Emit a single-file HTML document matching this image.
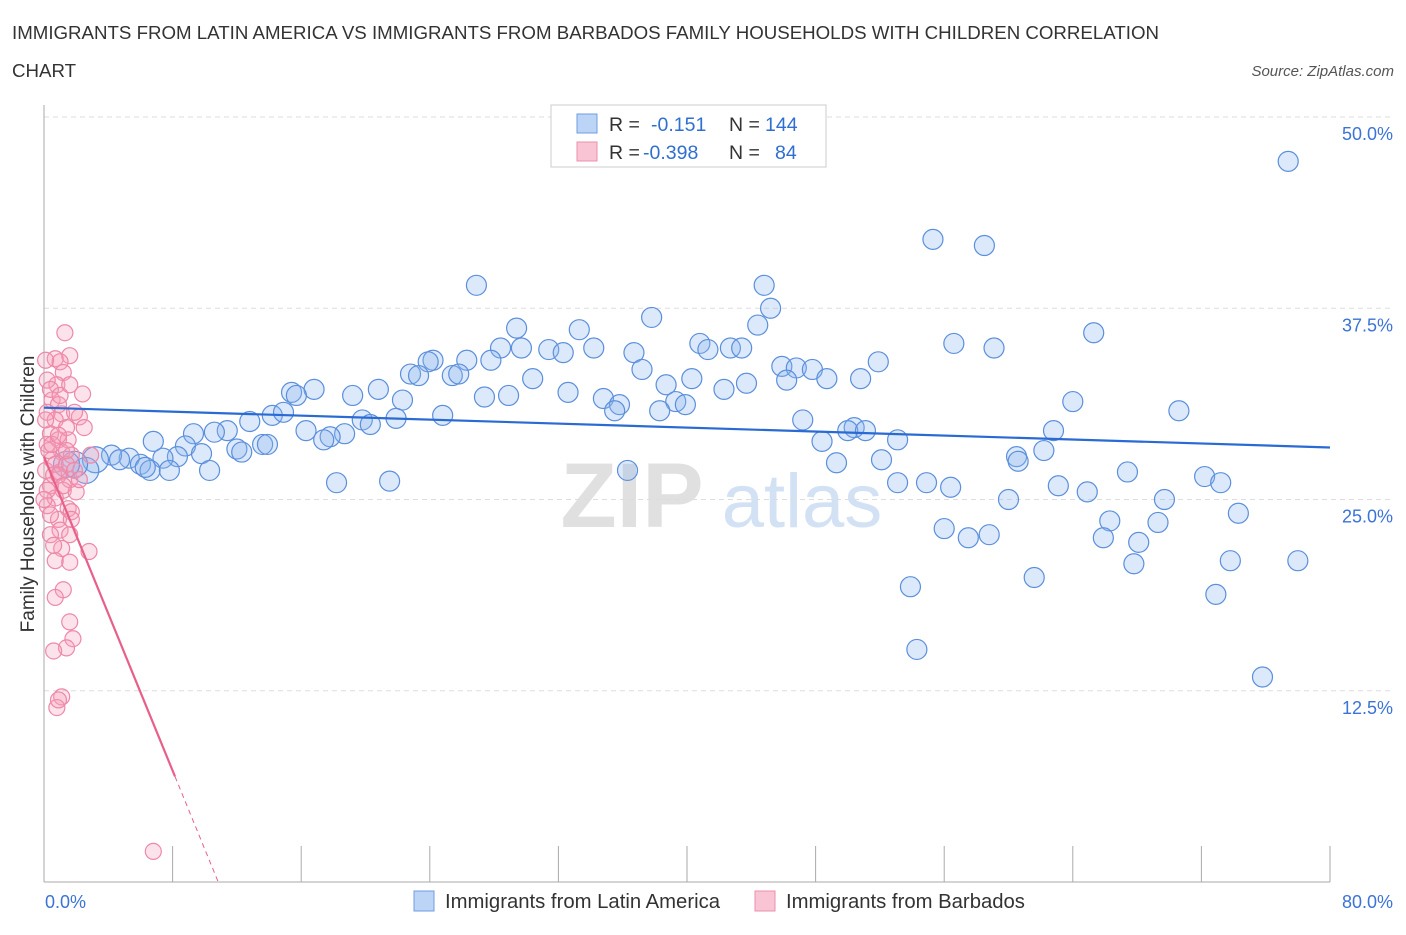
<!DOCTYPE html>
<html><head><meta charset="utf-8"><style>
body{margin:0;background:#fff;font-family:"Liberation Sans",sans-serif;}
svg text{font-family:"Liberation Sans",sans-serif;}
</style></head><body>
<svg id="chart" width="1406" height="930" viewBox="0 0 1406 930" xmlns="http://www.w3.org/2000/svg">
<text x="12" y="39" font-size="18.7" fill="#333">IMMIGRANTS FROM LATIN AMERICA VS IMMIGRANTS FROM BARBADOS FAMILY HOUSEHOLDS WITH CHILDREN CORRELATION</text>
<text x="12" y="77" font-size="18.7" fill="#333">CHART</text>
<text x="1394" y="76" font-size="15" font-style="italic" fill="#555" text-anchor="end">Source: ZipAtlas.com</text>
<g>
<text x="632" y="527" font-size="92" fill="#e0e0e0" text-anchor="middle" font-family="Liberation Serif" font-weight="bold">ZIP</text>
<text x="802" y="527" font-size="76" fill="#d3e1f5" text-anchor="middle">atlas</text>
</g>
<g id="grid"></g><g id="axes"></g><g id="pts"></g><g id="lines"></g>
<g>
<rect x="551" y="105" width="275" height="62" fill="#fff" stroke="#ccc"/>
<rect x="577" y="114" width="20" height="19" fill="#bcd4f5" stroke="#6f9de0"/>
<rect x="577" y="142" width="20" height="19" fill="#f9c5d4" stroke="#ec8fab"/>
<text x="609" y="131" font-size="19.5" fill="#333">R = <tspan fill="#2f6fd0" x="651">-0.151</tspan><tspan fill="#333" x="729">N = </tspan><tspan fill="#2f6fd0" x="765">144</tspan></text>
<text x="609" y="159" font-size="19.5" fill="#333">R = <tspan fill="#2f6fd0" x="643">-0.398</tspan><tspan fill="#333" x="729">N = </tspan><tspan fill="#2f6fd0" x="775">84</tspan></text>
</g>
<g>
<rect x="414" y="891" width="20" height="20" fill="#bcd4f5" stroke="#6f9de0"/>
<text x="445" y="908" font-size="20.3" fill="#333">Immigrants from Latin America</text>
<rect x="755" y="891" width="20" height="20" fill="#f9c5d4" stroke="#ec8fab"/>
<text x="786" y="908" font-size="20.3" fill="#333">Immigrants from Barbados</text>
</g>
<text transform="translate(34,494) rotate(-90)" font-size="19" fill="#333" text-anchor="middle">Family Households with Children</text>
</svg>
<script>
const yTicks=[12.5,25,37.5,50];
const yTickLabels=["12.5%","25.0%","37.5%","50.0%"];
const xTicks=[0,8,16,24,32,40,48,56,64,72,80];
const xEndLabels=["0.0%","80.0%"];
const blueX=[77.4,55.3,58.5,26.9,44.8,45.2,37.8,29.4,33.3,44.4,65.3,56.6,59.1,40.8,41.3,42.7,43.4,34.2,31.4,32.3,29.7,28.4,36.7,24.2,23.9,26.3,27.8,51.9,45.9,46.8,47.8,37.2,22.8,23.3,25.4,25.8,46.2,48.7,50.8,30.4,40.3,43.7,38.7,42.3,16.8,20.8,15.4,15.7,19.2,27.4,28.9,32.6,22.3,34.8,35.8,39.3,39.9,35.5,38.3,64.0,70.6,14.2,14.9,24.8,21.9,19.8,20.3,12.8,47.2,11.4,10.6,9.3,16.3,18.7,17.8,17.4,50.4,50.0,51.1,62.8,53.1,48.4,6.8,8.8,12.0,13.6,13.9,12.3,9.8,8.3,7.4,5.3,4.2,3.2,2.6,1.9,1.4,6.0,6.6,7.8,10.3,6.3,4.7,62.2,60.5,60.6,52.1,49.3,36.3,67.4,72.2,73.2,18.2,21.5,53.1,54.9,56.4,63.1,64.9,60.0,69.7,74.3,56.0,66.3,57.5,58.8,65.9,68.1,69.3,73.8,78.0,67.8,61.6,53.9,72.9,54.3,75.8];
const blueY=[47.1,42.0,41.6,39.0,39.0,37.5,36.9,36.2,36.1,36.4,35.9,35.2,34.9,35.2,34.8,34.9,34.9,34.9,34.8,34.6,34.9,34.9,34.6,34.1,34.0,34.1,34.1,34.0,33.7,33.6,33.5,33.5,33.2,33.1,33.1,33.2,32.8,32.9,32.9,32.9,32.9,32.6,32.5,32.2,32.2,32.2,32.0,31.8,31.8,31.7,31.8,32.0,31.5,31.6,31.2,31.4,31.2,30.8,30.8,31.4,30.8,30.5,30.7,30.5,30.3,30.2,29.9,30.1,30.2,29.5,29.4,29.3,29.5,29.3,29.1,28.9,29.7,29.5,29.5,29.5,28.9,28.8,28.8,28.5,28.3,28.6,28.6,28.1,28.0,27.8,27.7,27.7,27.9,27.6,26.9,27.3,27.3,27.3,26.9,26.9,26.9,27.1,27.6,28.2,27.8,27.5,27.6,27.4,26.9,26.8,26.5,26.1,26.1,26.2,26.1,26.1,25.8,25.9,25.5,25.0,25.0,24.1,23.1,23.6,22.5,22.7,22.5,22.2,23.5,21.0,21.0,20.8,19.9,19.3,18.8,15.2,13.4];
const pinkX=[1.3,0.7,1.6,1.0,1.2,0.8,2.4,0.5,0.9,0.2,1.1,2.2,0.7,1.4,0.4,2.5,0.9,0.2,1.1,1.7,0.5,2.9,0.1,1.0,1.6,0.4,1.2,2.0,0.7,0.2,1.5,0.9,1.7,1.0,0.4,1.6,1.1,2.8,0.7,1.6,1.2,0.7,1.6,1.8,1.4,0.6,1.1,0.8,0.9,6.8,0.2,0.4,0.1,0.3,0.6,0.2,0.7,1.4,0.0,1.9,2.2,1.5,0.5,1.0,1.6,1.9,0.1,0.9,1.2,0.4,0.9,1.4,1.7,0.6];
const pinkY=[35.9,34.2,34.4,34.0,33.3,32.5,31.9,31.5,31.2,30.7,30.6,30.4,30.2,29.7,29.3,29.7,28.9,28.6,28.1,27.9,27.6,27.9,26.9,26.8,26.3,25.9,25.6,25.5,25.1,24.6,24.4,23.7,24.2,23.0,22.7,22.7,21.8,21.6,21.0,20.9,19.1,18.6,17.0,15.9,15.3,15.1,12.1,11.4,11.9,2.0,32.8,32.2,30.2,28.2,26.6,25.6,27.3,27.3,25.0,26.9,26.3,28.9,28.6,31.8,32.5,30.7,34.1,26.6,25.9,24.0,29.2,28.2,23.7,22.0];
const blueTrend=[31.0,28.4];
const pinkTrend=[27.8,-2.565];
const pinkSolidEnd=8.15;
const NS="http://www.w3.org/2000/svg";
const X0=44,X1=1330,Y0=882,Y50=117;
const sx=v=>X0+(X1-X0)*v/80;
const sy=v=>Y0-(Y0-Y50)*v/50;
function mk(t,a,p){const e=document.createElementNS(NS,t);for(const k in a)e.setAttribute(k,a[k]);p.appendChild(e);return e;}
const grid=document.getElementById('grid'),axes=document.getElementById('axes'),pts=document.getElementById('pts'),lines=document.getElementById('lines');
yTicks.forEach((t,i)=>{
 const g=mk('line',{x1:X0,x2:1392,y1:sy(t),y2:sy(t),stroke:'#ddd','stroke-dasharray':'5,4'},grid);
 
 
 const l=mk('text',{x:1393,y:sy(t)+23,'font-size':18,fill:'#3b73d6','text-anchor':'end'},axes);
 l.textContent=yTickLabels[i];
 
 
});
const ya=mk('line',{x1:X0,x2:X0,y1:105,y2:Y0,stroke:'#aaa'},axes);


const xa=mk('line',{x1:X0,x2:X1,y1:Y0,y2:Y0,stroke:'#aaa'},axes);


xTicks.forEach(t=>{
 const k=mk('line',{x1:sx(t),x2:sx(t),y1:846,y2:Y0,stroke:'#aaa'},axes);
 
 
});
const xl0=mk('text',{x:45,y:908,'font-size':18,fill:'#3b73d6'},axes);xl0.textContent=xEndLabels[0];


const xl1=mk('text',{x:1393,y:908,'font-size':18,fill:'#3b73d6','text-anchor':'end'},axes);xl1.textContent=xEndLabels[1];


blueX.forEach((x,i)=>{
 const r=x<4?13:10;
 const c=mk('circle',{cx:sx(x),cy:sy(blueY[i]),r:r,fill:'rgba(140,182,238,0.3)',stroke:'#5b8fdc','stroke-width':1.2},pts);
 
 
});
pinkX.forEach((x,i)=>{
 const c=mk('circle',{cx:sx(x),cy:sy(pinkY[i]),r:8,fill:'rgba(245,160,185,0.3)',stroke:'#ee88a8','stroke-width':1.2},pts);
 
 
});
const bl=mk('line',{x1:sx(0),y1:sy(blueTrend[0]),x2:sx(80),y2:sy(blueTrend[1]),stroke:'#2a6ad3','stroke-width':2.2},lines);


const pz=-pinkTrend[0]/pinkTrend[1];
const ps=mk('line',{x1:sx(0),y1:sy(pinkTrend[0]),x2:sx(pinkSolidEnd),y2:sy(pinkTrend[0]+pinkTrend[1]*pinkSolidEnd),stroke:'#e8608a','stroke-width':2.2},lines);


const pd=mk('line',{x1:sx(pinkSolidEnd),y1:sy(pinkTrend[0]+pinkTrend[1]*pinkSolidEnd),x2:sx(pz),y2:sy(0),stroke:'#e8608a','stroke-width':1,'stroke-dasharray':'5,4'},lines);


</script>
</body></html>
